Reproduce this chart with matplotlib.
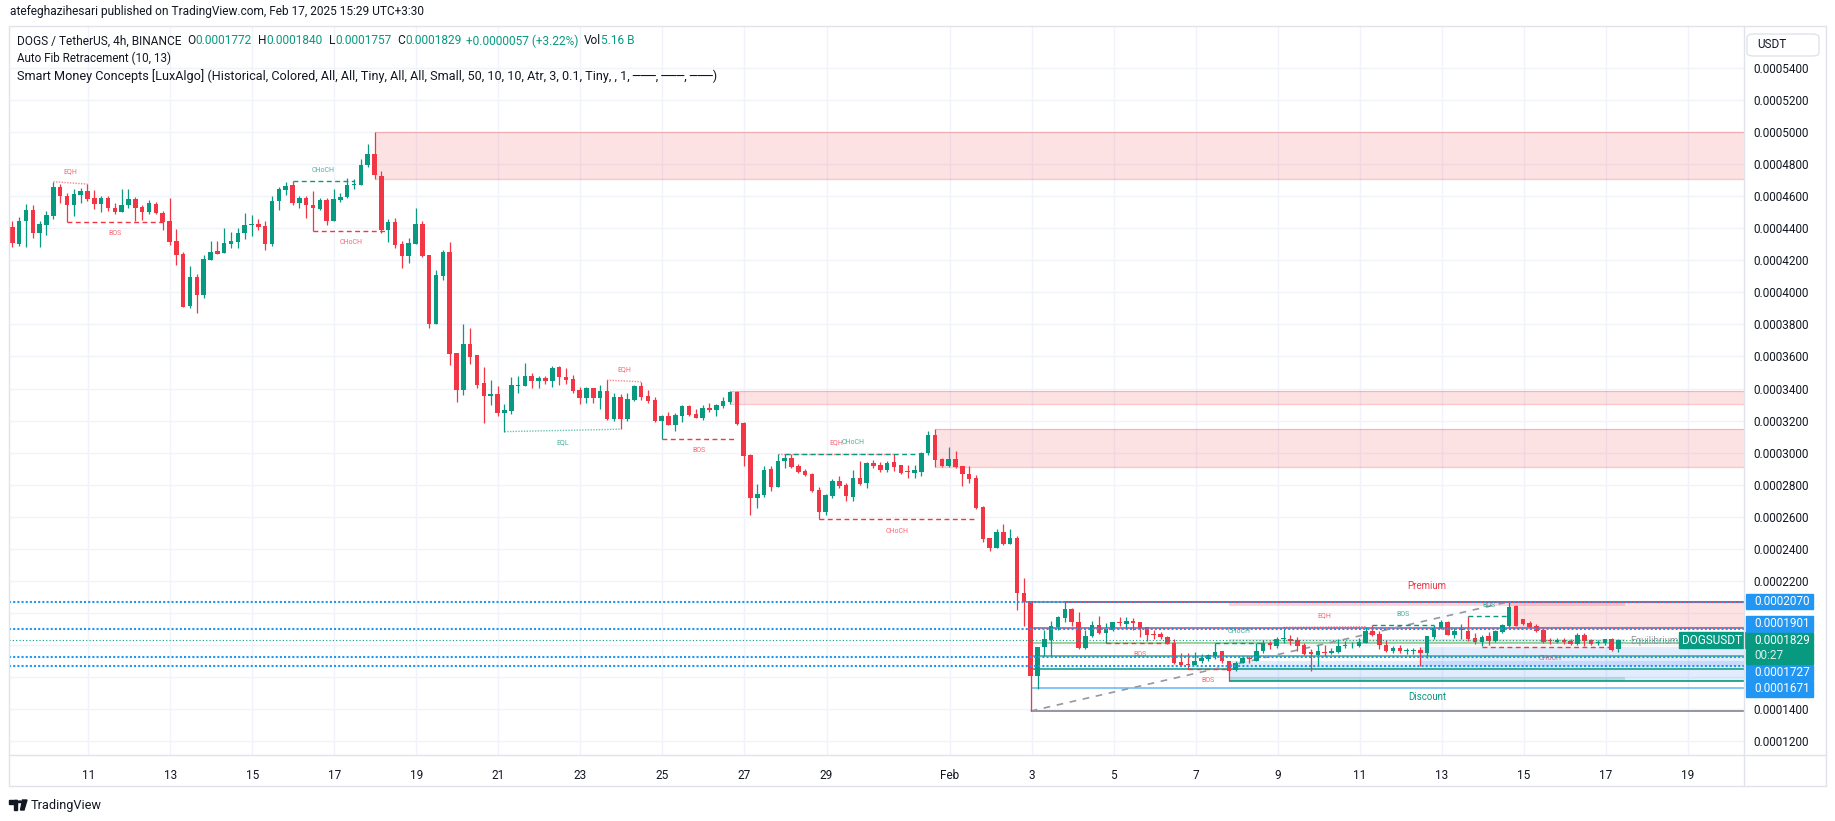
import numpy as np
import pandas as pd
import matplotlib
matplotlib.use("Agg")
import matplotlib.pyplot as plt
import matplotlib.dates as mdates
from matplotlib.patches import Rectangle, FancyBboxPatch, Polygon, Circle
from matplotlib.lines import Line2D

plt.rcParams['font.family'] = ['Roboto', 'DejaVu Sans']

# DOGS/USDT 4h candles, prices in units of 1e-7 USDT
first_bar = "2025-01-09 03:30"
opens = [
    4406, 4304, 4442, 4515, 4367, 4423, 4479, 4658, 4602, 4542, 4610, 4633,
    4587, 4548, 4587, 4527, 4498, 4542, 4583, 4531, 4502, 4554, 4496, 4446,
    4321, 4240, 3917, 4096, 3985, 4204, 4258, 4248, 4302, 4315, 4367, 4421,
    4427, 4415, 4304, 4567, 4640, 4671, 4558, 4590, 4544, 4517, 4577, 4448,
    4577, 4592, 4667, 4669, 4792, 4865, 4727, 4390, 4440, 4302, 4229, 4304,
    4427, 4233, 3804, 4104, 4252, 3623, 3392, 3677, 3608, 3433, 3354, 3365,
    3248, 3260, 3417, 3417, 3477, 3448, 3465, 3448, 3533, 3473, 3458, 3390,
    3342, 3402, 3342, 3383, 3208, 3346, 3208, 3327, 3417, 3352, 3327, 3198,
    3227, 3173, 3229, 3292, 3240, 3217, 3281, 3267, 3292, 3315, 3377, 3185,
    2985, 2719, 2735, 2898, 2787, 2948, 2965, 2917, 2885, 2867, 2767, 2631,
    2729, 2821, 2796, 2725, 2842, 2812, 2935, 2923, 2894, 2940, 2923, 2881,
    2875, 2881, 2996, 3110, 2960, 2919, 2960, 2917, 2867, 2842, 2660, 2467,
    2404, 2504, 2431, 2467, 2127, 2073, 1605, 1789, 1830, 1912, 1968, 2022,
    1945, 1780, 1853, 1922, 1874, 1893, 1943, 1930, 1947, 1943, 1912, 1870,
    1868, 1851, 1814, 1695, 1678, 1676, 1701, 1714, 1730, 1760, 1701, 1645,
    1689, 1718, 1701, 1760, 1814, 1793, 1835, 1835, 1828, 1797, 1755, 1739,
    1755, 1747, 1755, 1793, 1797, 1793, 1814, 1885, 1866, 1803, 1762, 1780,
    1764, 1764, 1766, 1751, 1851, 1907, 1945, 1862, 1891, 1887, 1845, 1818,
    1853, 1824, 1880, 1918, 2043, 1960, 1939, 1918, 1891, 1826, 1820, 1830,
    1824, 1808, 1860, 1828, 1812, 1810, 1835, 1772]
highs = [
    4442, 4473, 4552, 4546, 4448, 4510, 4690, 4677, 4619, 4646, 4650, 4675,
    4640, 4598, 4598, 4556, 4646, 4646, 4594, 4546, 4573, 4565, 4508, 4590,
    4392, 4252, 4165, 4112, 4233, 4321, 4321, 4402, 4379, 4404, 4496, 4481,
    4456, 4448, 4602, 4656, 4690, 4692, 4602, 4600, 4633, 4587, 4587, 4644,
    4619, 4715, 4706, 4831, 4927, 5000, 4754, 4456, 4465, 4323, 4340, 4527,
    4442, 4233, 4140, 4265, 4315, 3623, 3802, 3775, 3608, 3533, 3452, 3415,
    3306, 3469, 3481, 3562, 3494, 3481, 3481, 3540, 3540, 3527, 3483, 3410,
    3408, 3402, 3421, 3452, 3373, 3365, 3373, 3423, 3442, 3390, 3348, 3237,
    3256, 3248, 3298, 3296, 3271, 3296, 3308, 3302, 3346, 3385, 3383, 3190,
    2990, 2804, 2915, 2915, 2992, 2992, 2992, 2929, 2898, 2873, 2783, 2742,
    2835, 2852, 2808, 2892, 2950, 2944, 2954, 2940, 2950, 2992, 2925, 2923,
    2923, 3006, 3138, 3148, 2969, 3033, 3008, 2917, 2917, 2860, 2667, 2467,
    2521, 2552, 2521, 2477, 2215, 2073, 1789, 1893, 1949, 1980, 2070, 2028,
    2008, 1891, 1949, 1982, 1939, 1941, 1974, 1976, 1968, 1945, 1914, 1893,
    1880, 1855, 1835, 1751, 1751, 1755, 1741, 1741, 1814, 1760, 1701, 1699,
    1724, 1730, 1814, 1830, 1824, 1849, 1910, 1862, 1851, 1810, 1772, 1803,
    1803, 1783, 1835, 1824, 1818, 1845, 1914, 1922, 1887, 1830, 1793, 1797,
    1783, 1783, 1789, 1855, 1922, 1955, 1949, 1907, 1930, 1980, 1872, 1860,
    1880, 1893, 1930, 2070, 2050, 1964, 1949, 1928, 1891, 1845, 1845, 1845,
    1835, 1872, 1872, 1835, 1828, 1839, 1843, 1840]
lows = [
    4285, 4290, 4285, 4337, 4285, 4358, 4460, 4560, 4440, 4479, 4560, 4571,
    4519, 4498, 4510, 4490, 4498, 4529, 4442, 4452, 4487, 4490, 4387, 4298,
    4173, 3906, 3904, 3873, 3967, 4204, 4242, 4248, 4277, 4277, 4335, 4352,
    4387, 4265, 4287, 4515, 4610, 4544, 4523, 4465, 4383, 4515, 4417, 4448,
    4565, 4587, 4644, 4669, 4781, 4710, 4373, 4315, 4279, 4154, 4185, 4304,
    4223, 3779, 3804, 4075, 3546, 3317, 3360, 3554, 3404, 3185, 3296, 3229,
    3131, 3244, 3369, 3417, 3404, 3404, 3431, 3410, 3423, 3431, 3369, 3304,
    3310, 3310, 3273, 3204, 3200, 3146, 3200, 3321, 3331, 3310, 3190, 3087,
    3173, 3135, 3192, 3229, 3217, 3206, 3252, 3227, 3281, 3302, 3173, 2919,
    2610, 2656, 2725, 2763, 2787, 2906, 2906, 2875, 2852, 2752, 2585, 2613,
    2719, 2777, 2700, 2700, 2798, 2781, 2904, 2881, 2877, 2888, 2869, 2844,
    2844, 2856, 2987, 2913, 2913, 2908, 2904, 2794, 2812, 2648, 2444, 2388,
    2404, 2425, 2431, 2019, 1919, 1388, 1526, 1730, 1730, 1893, 1943, 1918,
    1776, 1772, 1849, 1870, 1814, 1889, 1918, 1901, 1893, 1851, 1826, 1835,
    1835, 1806, 1680, 1668, 1649, 1676, 1689, 1703, 1710, 1689, 1574, 1637,
    1685, 1689, 1701, 1751, 1772, 1782, 1814, 1803, 1762, 1739, 1637, 1668,
    1730, 1741, 1751, 1783, 1783, 1789, 1810, 1855, 1772, 1755, 1747, 1747,
    1745, 1745, 1668, 1720, 1835, 1901, 1862, 1845, 1835, 1824, 1808, 1793,
    1803, 1818, 1872, 1910, 1916, 1926, 1901, 1880, 1814, 1808, 1810, 1808,
    1801, 1801, 1793, 1797, 1797, 1801, 1762, 1757]
closes = [
    4306, 4446, 4515, 4367, 4427, 4483, 4658, 4600, 4542, 4615, 4633, 4583,
    4548, 4587, 4523, 4502, 4546, 4583, 4529, 4504, 4558, 4492, 4440, 4315,
    4233, 3910, 4096, 3985, 4208, 4252, 4242, 4306, 4321, 4371, 4421, 4425,
    4410, 4304, 4571, 4646, 4665, 4558, 4590, 4544, 4523, 4575, 4448, 4583,
    4596, 4671, 4677, 4796, 4865, 4729, 4390, 4440, 4298, 4229, 4308, 4427,
    4229, 3804, 4108, 4252, 3615, 3392, 3677, 3598, 3421, 3354, 3365, 3248,
    3265, 3421, 3421, 3477, 3448, 3465, 3448, 3527, 3473, 3454, 3385, 3342,
    3402, 3342, 3383, 3208, 3346, 3208, 3333, 3417, 3348, 3321, 3198, 3227,
    3173, 3233, 3292, 3235, 3217, 3281, 3267, 3296, 3321, 3377, 3180, 2981,
    2719, 2740, 2892, 2787, 2948, 2965, 2912, 2881, 2862, 2763, 2631, 2735,
    2821, 2792, 2729, 2840, 2804, 2935, 2919, 2894, 2935, 2910, 2875, 2877,
    2892, 2998, 3110, 2956, 2919, 2960, 2908, 2869, 2835, 2654, 2463, 2404,
    2504, 2431, 2467, 2127, 2069, 1606, 1789, 1835, 1916, 1972, 2022, 1945,
    1780, 1853, 1922, 1874, 1899, 1941, 1937, 1947, 1937, 1907, 1860, 1864,
    1847, 1810, 1689, 1676, 1674, 1701, 1718, 1735, 1755, 1701, 1639, 1689,
    1716, 1710, 1760, 1814, 1799, 1839, 1841, 1824, 1793, 1743, 1743, 1762,
    1749, 1762, 1793, 1797, 1799, 1818, 1885, 1862, 1799, 1762, 1780, 1764,
    1766, 1766, 1751, 1855, 1907, 1945, 1862, 1889, 1897, 1839, 1818, 1851,
    1824, 1885, 1922, 2039, 1918, 1933, 1912, 1887, 1818, 1822, 1830, 1818,
    1808, 1860, 1824, 1808, 1816, 1835, 1766, 1829]

# Smart Money Concepts structure (candle numbers counted from 1)
smc_text = ["EQH", "BOS", "CHoCH", "CHoCH", "EQL", "EQH", "BOS", "EQH", "CHoCH",
            "CHoCH", "BOS", "BOS", "CHoCH", "EQH", "BOS", "BOS", "CHoCH"]
smc_bias = ["bear", "bear", "bull", "bear", "bull", "bear", "bear", "bear", "bull",
            "bear", "bear", "bear", "bull", "bear", "bull", "bull", "bear"]
smc_from = [7, 9, 42, 45, 73, 88, 96, 113, 114, 119, 161, 173, 177, 187, 200, 214, 216]
smc_to = [12, 23, 51, 56, 90, 93, 107, 130, 134, 142, 171, 179, 184, 199, 209, 220, 236]
smc_p0 = [4690, 4440, 4694, 4383, 3131, 3452, 3087, 2992, 2992, 2585, 1814, 1651, 1814,
          1910, 1922, 1980, 1789]
smc_p1 = [4675, 4440, 4694, 4383, 3146, 3442, 3087, 2992, 2992, 2585, 1814, 1651, 1814,
          1914, 1922, 1980, 1789]

# order blocks, extended to the right
ob_bias = ["bear", "bear", "bear", "bear", "bull", "bull"]
ob_from = [54, 106, 136, 220, 179, 207]
ob_top = [5000, 3385, 3148, 2070, 1701, 1789]
ob_bottom = [4710, 3302, 2913, 1910, 1574, 1668]

# premium / discount range
pd_from = 179
pd_top, pd_bottom = 2070, 1574
trail_high_from, trail_low_from = 155, 179

# auto fib retracement
fib_from, fib_to = 150, 220
fib_low, fib_high = 1388, 2070
fib_levels = [0, 0.236, 0.382, 0.5, 0.618, 0.786, 1]
fib_colors = ['#787b86', '#f23645', '#81c784', '#4caf50', '#089981', '#64b5f6', '#787b86']

# drawn horizontal lines
h_lines = [2070, 1901, 1727, 1671]
last_close = 1829

price_ticks = [1200, 1400, 1600, 1800, 2000, 2200, 2400, 2600, 2800, 3000, 3200, 3400,
               3600, 3800, 4000, 4200, 4400, 4600, 4800, 5000, 5200, 5400]
hidden_ticks = [1600, 1800, 2000]
date_ticks = ["2025-01-11", "2025-01-13", "2025-01-15", "2025-01-17", "2025-01-19",
              "2025-01-21", "2025-01-23", "2025-01-25", "2025-01-27", "2025-01-29",
              "2025-02-01", "2025-02-03", "2025-02-05", "2025-02-07", "2025-02-09",
              "2025-02-11", "2025-02-13", "2025-02-15", "2025-02-17", "2025-02-19"]
date_labels = ["11", "13", "15", "17", "19", "21", "23", "25", "27", "29",
               "Feb", "3", "5", "7", "9", "11", "13", "15", "17", "19"]

P = 1e-7
RED, TEAL, BLUE, DARK = '#f23645', '#089981', '#2196f3', '#131722'
W, H = 1835, 821


def fx(x):
    return x / W


def fy(y):
    return 1 - y / H


o = np.array(opens) * P
h = np.array(highs) * P
l = np.array(lows) * P
c = np.array(closes) * P
t = mdates.date2num(pd.date_range(first_bar, periods=len(o), freq="4h").to_numpy())

fig = plt.figure(figsize=(W / 100, H / 100), dpi=100)
ax = fig.add_axes([fx(9), fy(755), (1744 - 9) / W, (755 - 26) / H])
x_left = mdates.date2num(np.datetime64("2025-01-09T01:34"))
x_right = mdates.date2num(np.datetime64("2025-02-20T08:57"))
ax.set_xlim(x_left, x_right)
ax.set_ylim(0.00011137, 0.00056614)

# grid and axes
ax.set_yticks(np.array(price_ticks) * P)
ax.set_yticklabels(["" if v in hidden_ticks else "%.7f" % (v * P) for v in price_ticks])
ax.yaxis.tick_right()
ax.set_xticks(mdates.date2num(pd.to_datetime(date_ticks).to_numpy()))
ax.set_xticklabels(date_labels)
ax.tick_params(axis='y', length=0, pad=6.5, labelsize=8.5, labelcolor=DARK)
ax.tick_params(axis='x', length=0, pad=10, labelsize=8.5, labelcolor=DARK)
ax.grid(True, color='#f0f3fa', lw=1.0, zorder=0)
ax.set_axisbelow(True)
for s in ax.spines.values():
    s.set_visible(False)

# order blocks
for bias, i0, top, bot in zip(ob_bias, ob_from, ob_top, ob_bottom):
    col = RED if bias == "bear" else '#3179f5'
    ax.add_patch(Rectangle((t[i0 - 1], bot * P), x_right - t[i0 - 1], (top - bot) * P,
                           facecolor=col, alpha=0.14, edgecolor='none', zorder=1))
    if bias == "bear":
        ax.hlines([top * P, bot * P], t[i0 - 1], x_right, color=col, alpha=0.28, lw=0.9, zorder=1)

# premium / equilibrium / discount
top, bot = pd_top * P, pd_bottom * P
xa, xb = t[pd_from - 1], t[-1] + 1 / 6
zones = [(0.95 * top + 0.05 * bot, top, RED),
         (0.525 * bot + 0.475 * top, 0.525 * top + 0.475 * bot, '#878b94'),
         (bot, 0.95 * bot + 0.05 * top, TEAL)]
for z0, z1, col in zones:
    ax.add_patch(Rectangle((xa, z0), xb - xa, z1 - z0, facecolor=col, alpha=0.2,
                           edgecolor='none', zorder=1))
ax.annotate("Premium", ((xa + xb) / 2, top), xytext=(0, 16), textcoords='offset pixels',
            ha='center', va='center', fontsize=7, color=RED)
ax.annotate("Discount", ((xa + xb) / 2, bot), xytext=(0, -16), textcoords='offset pixels',
            ha='center', va='center', fontsize=7, color=TEAL)
ax.annotate("Equilibrium", (xb, (top + bot) / 2), xytext=(5, 0), textcoords='offset pixels',
            ha='left', va='center', fontsize=7, color='#9598a1')

# auto fib
for lev, col in zip(fib_levels, fib_colors):
    ax.hlines((fib_high - lev * (fib_high - fib_low)) * P, t[fib_from - 1], x_right,
              color=col, lw=1.1, zorder=2)
ax.plot([t[fib_from - 1], t[fib_to - 1]], [fib_low * P, fib_high * P], color='#9598a1',
        lw=1.2, ls=(0, (4, 4)), zorder=2)

# trailing extremes
ax.hlines(pd_top * P, t[trail_high_from - 1], x_right, color=RED, lw=1.2, zorder=2)
ax.hlines(pd_bottom * P, t[trail_low_from - 1], x_right, color=TEAL, lw=1.2, zorder=2)

# candles
up = c >= o
cols = np.where(up, TEAL, RED)
ax.vlines(t, l, h, colors=cols, lw=0.9, zorder=3)
ax.bar(t, np.maximum(np.abs(c - o), 6e-7), bottom=np.minimum(o, c), width=0.11,
       color=cols, lw=0, zorder=3)

# structure
for txt, bias, i0, i1, p0, p1 in zip(smc_text, smc_bias, smc_from, smc_to, smc_p0, smc_p1):
    col = TEAL if bias == "bull" else RED
    x0, x1 = t[i0 - 1], t[i1 - 1]
    if txt in ("EQH", "EQL"):
        ax.plot([x0, x1], [p0 * P, p1 * P], color=col, lw=1.0, ls=(0, (1, 1)), alpha=0.6, zorder=4)
        above = txt == "EQH"
    else:
        ax.plot([x0, x1], [p0 * P, p1 * P], color=col, lw=1.0, ls=(0, (3.5, 2.5)), zorder=4)
        above = bias == "bull"
    ax.annotate(txt, ((x0 + x1) / 2, (p0 + p1) / 2 * P), xytext=(0, 11 if above else -12),
                textcoords='offset pixels', ha='center', va='center', fontsize=5,
                color=col, alpha=0.75, zorder=5)

# horizontal lines and last price line
for v in h_lines:
    ax.axhline(v * P, color=BLUE, lw=1.5, ls=(0, (1, 1)), zorder=6)
ax.axhline(last_close * P, color=TEAL, lw=0.8, ls=(0, (1, 2)), zorder=6)

# price-axis labels, stacked like TradingView does
def ypix(v):
    return ax.transData.transform((x_left, v * P))[1]


lh = 15.5
cur = ypix(last_close)
cur_box = (cur - 7.75 - lh, cur + 7.75)
boxes = []
above = sorted([v for v in h_lines if ypix(v) > cur], key=ypix)
prev_top = cur_box[1]
for v in above:
    b0 = max(ypix(v) - 7.75, prev_top + 1)
    boxes.append((v, b0, b0 + lh))
    prev_top = b0 + lh
below = sorted([v for v in h_lines if ypix(v) <= cur], key=ypix, reverse=True)
prev_bot = cur_box[0]
for v in below:
    b1 = min(ypix(v) + 7.75, prev_bot - 1)
    boxes.append((v, b1 - lh, b1))
    prev_bot = b1 - lh

for v, b0, b1 in boxes:
    fig.add_artist(Rectangle((fx(1746), b0 / H), 67 / W, (b1 - b0) / H, color=BLUE))
    fig.text(fx(1754), (b0 + b1) / 2 / H, "%.7f" % (v * P), color='white', fontsize=8.5,
             ha='left', va='center')
fig.add_artist(Rectangle((fx(1746), cur_box[0] / H), 67 / W, (cur_box[1] - cur_box[0]) / H,
                         color=TEAL))
fig.text(fx(1754), cur / H, "%.7f" % (last_close * P), color='white', fontsize=8.5,
         ha='left', va='center')
fig.text(fx(1754), (cur - lh) / H, "00:27", color='#d6f0eb', fontsize=8.5,
         ha='left', va='center')
fig.add_artist(Rectangle((fx(1679), (cur - 8) / H), 66 / W, 16 / H, color=TEAL))
fig.text(fx(1712), cur / H, "DOGSUSDT", color='white', fontsize=8.5, ha='center', va='center')

# panel frame and separators
fig.add_artist(Rectangle((fx(9), fy(786)), 1817 / W, 760 / H, fill=False,
                         edgecolor='#e0e3eb', lw=1))
fig.add_artist(Line2D([fx(1744), fx(1744)], [fy(26), fy(786)], color='#e0e3eb', lw=1))
fig.add_artist(Line2D([fx(9), fx(1826)], [fy(755), fy(755)], color='#e0e3eb', lw=1))
fig.add_artist(FancyBboxPatch((fx(1747), fy(56)), 72 / W, 22 / H,
                              boxstyle="round,pad=0,rounding_size=0.004",
                              facecolor='white', edgecolor='#e0e3eb', lw=1))
fig.text(fx(1757), fy(45), "USDT", color=DARK, fontsize=8.5, ha='left', va='center')

# header texts
fig.text(fx(10), fy(12), "atefeghazihesari published on TradingView.com, Feb 17, 2025 15:29 UTC+3:30",
         color=DARK, fontsize=8.6, ha='left', va='center')

renderer = fig.canvas.get_renderer()
legend = [("DOGS / TetherUS, 4h, BINANCE", DARK, 6), ("O", DARK, 0), ("0.0001772", TEAL, 6),
          ("H", DARK, 0), ("0.0001840", TEAL, 6), ("L", DARK, 0), ("0.0001757", TEAL, 6),
          ("C", DARK, 0), ("0.0001829", TEAL, 5), ("+0.0000057 (+3.22%)", TEAL, 5),
          ("Vol", DARK, 0), ("5.16 B", TEAL, 0)]
xp = 17
for s, col, gap in legend:
    tx = fig.text(fx(xp), fy(41), s, color=col, fontsize=8.55, ha='left', va='center')
    xp += tx.get_window_extent(renderer).width + gap
fig.text(fx(17), fy(58.5), "Auto Fib Retracement (10, 13)", color=DARK, fontsize=8.4,
         ha='left', va='center')
fig.text(fx(17), fy(76), "Smart Money Concepts [LuxAlgo] (Historical, Colored, All, All, Tiny, "
         "All, All, Small, 50, 10, 10, Atr, 3, 0.1, Tiny, , 1, ───, ───, ───)",
         color=DARK, fontsize=9.1, ha='left', va='center')

# TradingView logo
fig.add_artist(Rectangle((fx(9), fy(803.5)), 8 / W, 3.5 / H, color=DARK))
fig.add_artist(Rectangle((fx(13.5), fy(810)), 3.5 / W, 10 / H, color=DARK))
fig.add_artist(Circle((fx(20), fy(801.8)), 1.8 / W, color=DARK))
fig.add_artist(Polygon([(fx(22.5), fy(800)), (fx(27), fy(800)), (fx(24), fy(810)),
                        (fx(20.5), fy(810))], closed=True, color=DARK))
fig.text(fx(31), fy(805), "TradingView", color=DARK, fontsize=9.2, ha='left', va='center')

fig.savefig("out.png", dpi=100)
